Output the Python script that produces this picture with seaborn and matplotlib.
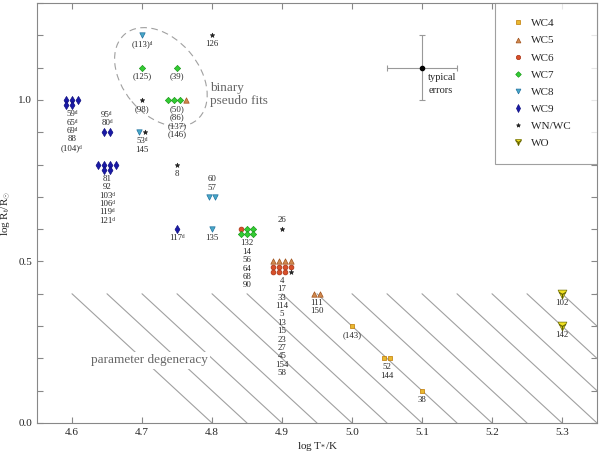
import numpy as np
import pandas as pd
import matplotlib
matplotlib.use("Agg")
import matplotlib.pyplot as plt
import matplotlib.transforms as mtransforms
from matplotlib.lines import Line2D
from matplotlib.patches import Ellipse
from matplotlib.legend_handler import HandlerTuple
from matplotlib.ticker import MultipleLocator, FormatStrFormatter
import seaborn as sns

# Stars grouped on the model grid (log T*, log Rt)
group_logT = [4.60, 4.65, 4.65, 4.70, 4.70, 4.75, 4.70, 4.75, 4.70, 4.75, 4.80, 4.80,
              4.75, 4.80, 4.85, 4.90, 4.90, 4.95, 5.00, 5.05, 5.10, 5.30, 5.30]
group_logR = [1.00, 0.90, 0.80, 1.20, 1.10, 1.10, 1.00, 1.00, 0.90, 0.80, 1.20, 0.70,
              0.60, 0.60, 0.60, 0.60, 0.50, 0.40, 0.30, 0.20, 0.10, 0.40, 0.30]
group_types = [
    ["WC9"] * 5,
    ["WC9"] * 2,
    ["WC9"] * 6,
    ["WC8"],
    ["WC7"],
    ["WC7"],
    ["WN/WC"],
    ["WC7", "WC7", "WC7", "WC5"],
    ["WC8", "WN/WC"],
    ["WN/WC"],
    ["WN/WC"],
    ["WC8"] * 2,
    ["WC9"],
    ["WC8"],
    ["WC6"] + ["WC7"] * 5,
    ["WN/WC"],
    ["WC5"] * 4 + ["WC6"] * 7 + ["WN/WC"],
    ["WC5"] * 2,
    ["WC4"],
    ["WC4"] * 2,
    ["WC4"],
    ["WO"],
    ["WO"],
]
D = "\u1d48"  # superscript d
group_labels = [
    ["59" + D, "65" + D, "69" + D, "88", "(104)" + D],
    ["95" + D, "80" + D],
    ["81", "92", "103" + D, "106" + D, "119" + D, "121" + D],
    ["(113)" + D],
    ["(125)"],
    ["(39)"],
    ["(98)"],
    ["(50)", "(86)", "(137)", "(146)"],
    ["53" + D, "145"],
    ["8"],
    ["126"],
    ["60", "57"],
    ["117" + D],
    ["135"],
    ["132", "14", "56", "64", "68", "90"],
    ["26"],
    ["4", "17", "33", "114", "5", "13", "15", "23", "27", "45", "154", "58"],
    ["111", "150"],
    ["(143)"],
    ["52", "144"],
    ["38"],
    ["102"],
    ["142"],
]

# typical error bar
err_T = [5.10]
err_R = [1.10]
err_dT = [0.05]
err_dR = [0.10]

# constant-luminosity lines of the degenerate region (x at log R = 0)
degeneracy_x0 = [4.80, 4.85, 4.90, 4.95, 5.00, 5.05, 5.10, 5.15, 5.20, 5.25,
                 5.30, 5.35, 5.40, 5.45, 5.50, 5.55]

subtypes = ["WC4", "WC5", "WC6", "WC7", "WC8", "WC9", "WN/WC", "WO"]

# --- layout / style ---
ncols = {0: 3, 2: 4, 14: 3, 16: 4}
centre_last_row = {2}
labels_above = {1, 11, 15}
style = {
    "WC4": dict(marker="s", color="#e8b830", ec="#c07800", s=11),
    "WC5": dict(marker="^", color="#d08a50", ec="#a0501a", s=15),
    "WC6": dict(marker="o", color="#d8502a", ec="#a83010", s=12),
    "WC7": dict(marker="D", color="#33cc33", ec="#1a9a1a", s=10),
    "WC8": dict(marker="v", color="#48a8c8", ec="#2070a0", s=15),
    "WC9": dict(marker="d", color="#1a1aa8", ec="#101080", s=17),
    "WN/WC": dict(marker="*", color="#222222", ec="#222222", s=11),
    "WO": dict(marker="v", color="#f0e020", ec="#707000", s=40),
}
dx_px, dy_px = 5.9, 5.2
line_px = 8.4

sns.set_style("ticks")
plt.rcParams["font.family"] = ["Liberation Serif", "DejaVu Serif"]
plt.rcParams["mathtext.fontset"] = "custom"
plt.rcParams["mathtext.rm"] = "Liberation Serif"
plt.rcParams["mathtext.it"] = "Liberation Serif:italic"

fig, ax = plt.subplots(figsize=(6, 4.53), dpi=100)
fig.subplots_adjust(left=37 / 600, right=597 / 600, bottom=30 / 453, top=450 / 453)
ax.set_xlim(4.55, 5.35)
ax.set_ylim(0.0, 1.3)

# place each star of a group in a small grid around the grid point
rows = []
for g, (T, R, types) in enumerate(zip(group_logT, group_logR, group_types)):
    n = len(types)
    nc = ncols.get(g, n)
    base = ax.transData.transform((T, R))
    for k, t in enumerate(types):
        r, c = divmod(k, nc)
        in_row = min(nc, n - r * nc)
        shift = (nc - in_row) / 2 if g in centre_last_row else 0
        disp = base + np.array([(c + shift - (nc - 1) / 2) * dx_px, -r * dy_px])
        x, y = ax.transData.inverted().transform(disp)
        rows.append(dict(x=x, y=y, type=t, group=g))
df = pd.DataFrame(rows)

# hatched degeneracy region
for x0 in degeneracy_x0:
    ax.plot([x0 - 0.2, x0], [0.4, 0.0], color="#a0a0a0", lw=0.8, zorder=1)
ax.text(4.71, 0.194, "parameter degeneracy", ha="center", va="center", fontsize=9.5,
        color="#666666", zorder=2, bbox=dict(fc="white", ec="none", pad=2))

for t in subtypes:
    st = style[t]
    sub = df[df["type"] == t]
    sns.scatterplot(data=sub, x="x", y="y", marker=st["marker"], color=st["color"],
                    edgecolor=st["ec"], s=st["s"], linewidth=0.5, ax=ax,
                    legend=False, zorder=3)
wo = df[df["type"] == "WO"]
ax.scatter(wo["x"], wo["y"], marker="1", s=40, color="#606000", linewidth=0.8, zorder=4)

# star number labels
for g, (T, R, labs) in enumerate(zip(group_logT, group_logR, group_labels)):
    nc = ncols.get(g, len(group_types[g]))
    nrows = int(np.ceil(len(group_types[g]) / nc))
    for i, lab in enumerate(labs):
        if g in labels_above:
            off = 9 + (len(labs) - 1 - i) * line_px
        else:
            off = -(nrows - 1) * dy_px - 9 - i * line_px
        ax.annotate(lab, (T, R), xytext=(0, off * 0.72), textcoords="offset points",
                    ha="center", va="center", fontsize=6.3, zorder=5)

# binary pseudo fits
ell = Ellipse((0, 0), width=1.12, height=0.76, angle=-50, fill=False, ec="#a0a0a0",
              lw=0.8, ls=(0, (6, 4)),
              transform=fig.dpi_scale_trans + mtransforms.ScaledTranslation(4.727, 1.071, ax.transData))
ax.add_patch(ell)
ax.text(4.797, 1.057, "binary\npseudo fits", ha="left", va="top", fontsize=9.5,
        color="#666666", linespacing=1.15)

# typical errors
ax.errorbar(err_T, err_R, xerr=err_dT, yerr=err_dR, fmt="o", color="black", ms=3,
            ecolor="#999999", elinewidth=0.8, capsize=2.5, capthick=0.8, zorder=4)
ax.text(5.109, 1.082, "typical\nerrors", ha="left", va="top", fontsize=7.5,
        linespacing=1.5)

# axes
ax.xaxis.set_major_locator(MultipleLocator(0.1))
ax.xaxis.set_major_formatter(FormatStrFormatter("%.1f"))
ax.yaxis.set_major_locator(MultipleLocator(0.5))
ax.yaxis.set_minor_locator(MultipleLocator(0.1))
ax.yaxis.set_major_formatter(FormatStrFormatter("%.1f"))
ax.tick_params(which="both", direction="in", top=True, right=True, length=4,
               color="#888888", width=0.8, labelsize=8)
for sp in ax.spines.values():
    sp.set_color("#888888")
    sp.set_linewidth(0.8)
ax.set_xlabel(r"log T$_{*}$/K", fontsize=8, labelpad=2)
ax.set_ylabel(r"log R$_{\mathrm{t}}$/R$_{\odot}$", fontsize=8, labelpad=4)

# legend
handles = []
for t in subtypes:
    st = style[t]
    ms = np.sqrt(st["s"]) * (0.75 if t == "WO" else 0.9)
    h = Line2D([], [], ls="none", marker=st["marker"], color=st["color"],
               markeredgecolor=st["ec"], markeredgewidth=0.5, markersize=ms)
    if t == "WO":
        h = (h, Line2D([], [], ls="none", marker="1", color="#606000",
                       markersize=ms, markeredgewidth=0.8))
    handles.append(h)
leg_labels = [t + "    " if t == "WN/WC" else t for t in subtypes]
leg = ax.legend(handles, leg_labels, loc="upper right", borderaxespad=0, fontsize=8,
                frameon=True, fancybox=False, borderpad=1.4, labelspacing=0.66,
                handlelength=1.5, handletextpad=0.35,
                handler_map={tuple: HandlerTuple(ndivide=1, pad=0)})
leg.get_frame().set_edgecolor("#888888")
leg.get_frame().set_linewidth(0.8)

fig.savefig("out.png", dpi=100)
